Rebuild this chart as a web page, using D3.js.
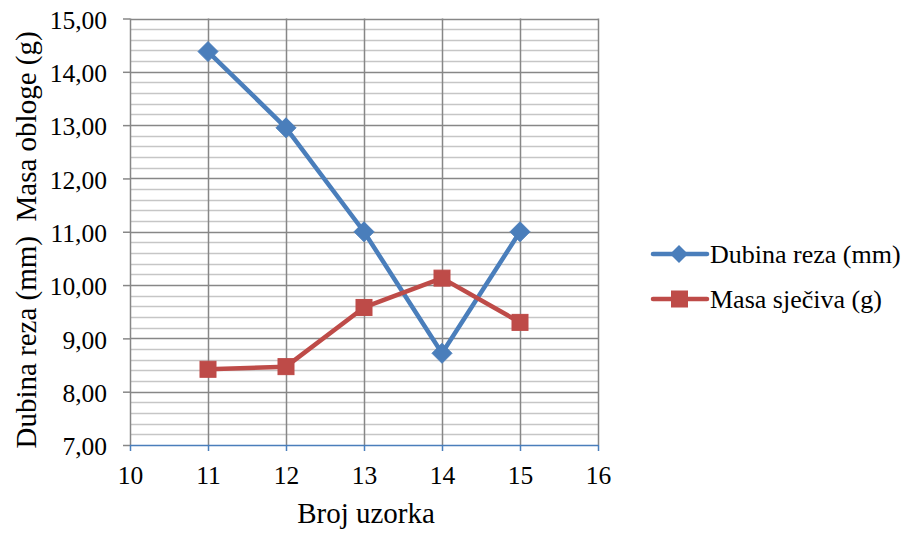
<!DOCTYPE html>
<html><head><meta charset="utf-8">
<script src="https://cdn.jsdelivr.net/npm/d3@7"></script>
<style>body{margin:0;background:#fff}svg{display:block}</style>
</head><body><svg id="c" width="908" height="535"></svg>
<script>
const samples = [11, 12, 13, 14, 15];
const dubinaReza = [14.38, 12.95, 11.00, 8.72, 11.00];
const masaSjeciva = [8.42, 8.47, 9.58, 10.13, 9.30];
const seriesNames = ["Dubina reza (mm)", "Masa sječiva (g)"];
const xTicks = [10, 11, 12, 13, 14, 15, 16];
const yTicks = [7, 8, 9, 10, 11, 12, 13, 14, 15];
const xTitle = "Broj uzorka";
const yTitle = "Dubina reza (mm)  Masa obloge (g)";

const FONT = '"Liberation Serif"';
const svg = d3.select("#c");
const L = 130, R = 598, T = 18.5, B = 445;
const x = d3.scaleLinear().domain([10, 16]).range([L, R]);
const y = d3.scaleLinear().domain([7, 15]).range([B, T]);
const blue = "#4A7EBB", red = "#BE4B48";
const fmt = v => v.toFixed(2).replace(".", ",");

// minor gridlines
const minor = d3.range(7, 15.001, 0.2).filter(v => Math.abs(v - Math.round(v)) > 1e-6);
svg.append("g").selectAll("line").data(minor).join("line")
  .attr("x1", L).attr("x2", R).attr("y1", d => Math.round(y(d)) + 0.5).attr("y2", d => Math.round(y(d)) + 0.5)
  .attr("stroke", "#c6c6c6").attr("stroke-width", 1.5);
// major horizontal
svg.append("g").selectAll("line").data(yTicks.slice(1)).join("line")
  .attr("x1", L).attr("x2", R).attr("y1", d => Math.round(y(d)) + 0.5).attr("y2", d => Math.round(y(d)) + 0.5)
  .attr("stroke", "#878787").attr("stroke-width", 1.5);
// vertical gridlines
svg.append("g").selectAll("line").data(xTicks).join("line")
  .attr("y1", T).attr("y2", B).attr("x1", d => Math.round(x(d)) + 0.5).attr("x2", d => Math.round(x(d)) + 0.5)
  .attr("stroke", "#878787").attr("stroke-width", 1.5);

// y axis
const yAxis = d3.axisLeft(y).tickValues(yTicks).tickFormat(fmt).tickSize(7).tickPadding(16);
const gy = svg.append("g").attr("transform", `translate(${L},0)`).call(yAxis);
gy.attr("font-family", null).attr("font-size", null);
gy.select(".domain").remove();
gy.selectAll(".tick line").attr("stroke", "#878787").attr("stroke-width", 1.5);
gy.selectAll(".tick text").style("font-family", FONT).style("font-size", "25.5px").attr("dy", "0.38em").attr("fill", "#000");

// x axis
const xAxis = d3.axisBottom(x).tickValues(xTicks).tickFormat(d3.format("d")).tickSize(6).tickPadding(15);
const gx = svg.append("g").attr("transform", `translate(0,${B})`).call(xAxis);
gx.attr("font-family", null).attr("font-size", null);
gx.select(".domain").attr("stroke", blue).attr("stroke-width", 1.5).attr("d", `M${L},0.5H${R}`);
gx.selectAll(".tick line").attr("stroke", blue).attr("stroke-width", 1.5);
gx.selectAll(".tick text").style("font-family", FONT).style("font-size", "25.5px").attr("fill", "#000");

// titles
svg.append("text").attr("x", 366).attr("y", 523).attr("text-anchor", "middle")
  .style("font-family", FONT).style("font-size", "29px").text(xTitle);
svg.append("text").attr("transform", `translate(36,240) rotate(-90)`)
  .attr("text-anchor", "middle").style("font-family", FONT).style("font-size", "29px")
  .style("white-space", "pre").text(yTitle);

// lines
const line = d3.line().x((d, i) => x(samples[i])).y(d => y(d));
svg.append("path").datum(dubinaReza).attr("d", line).attr("fill", "none").attr("stroke", blue).attr("stroke-width", 4.5).attr("stroke-linejoin", "round");
svg.append("path").datum(masaSjeciva).attr("d", line).attr("fill", "none").attr("stroke", red).attr("stroke-width", 4.5).attr("stroke-linejoin", "round");

const diamond = (cx, cy, r) => `M${cx},${cy - r}L${cx + r},${cy}L${cx},${cy + r}L${cx - r},${cy}Z`;
svg.append("g").selectAll("path").data(dubinaReza).join("path")
  .attr("d", (d, i) => diamond(x(samples[i]), y(d), 10)).attr("fill", blue).attr("stroke", blue).attr("stroke-width", 1);
svg.append("g").selectAll("rect").data(masaSjeciva).join("rect")
  .attr("x", (d, i) => x(samples[i]) - 8).attr("y", d => y(d) - 8).attr("width", 16).attr("height", 16)
  .attr("fill", red).attr("stroke", red).attr("stroke-width", 1);

// legend
const lg = svg.append("g");
const items = [{ n: seriesNames[0], c: blue, m: "d", yy: 254 }, { n: seriesNames[1], c: red, m: "s", yy: 299 }];
items.forEach(it => {
  lg.append("line").attr("x1", 653).attr("x2", 707).attr("y1", it.yy).attr("y2", it.yy).attr("stroke", it.c).attr("stroke-width", 4.5).attr("stroke-linecap", "round");
  if (it.m === "d") lg.append("path").attr("d", diamond(679, it.yy, 9)).attr("fill", it.c);
  else lg.append("rect").attr("x", 671).attr("y", it.yy - 8.5).attr("width", 17).attr("height", 17).attr("fill", it.c);
  lg.append("text").attr("x", 710).attr("y", it.yy + 9).style("font-family", FONT).style("font-size", "26px").text(it.n);
});
</script></body></html>
